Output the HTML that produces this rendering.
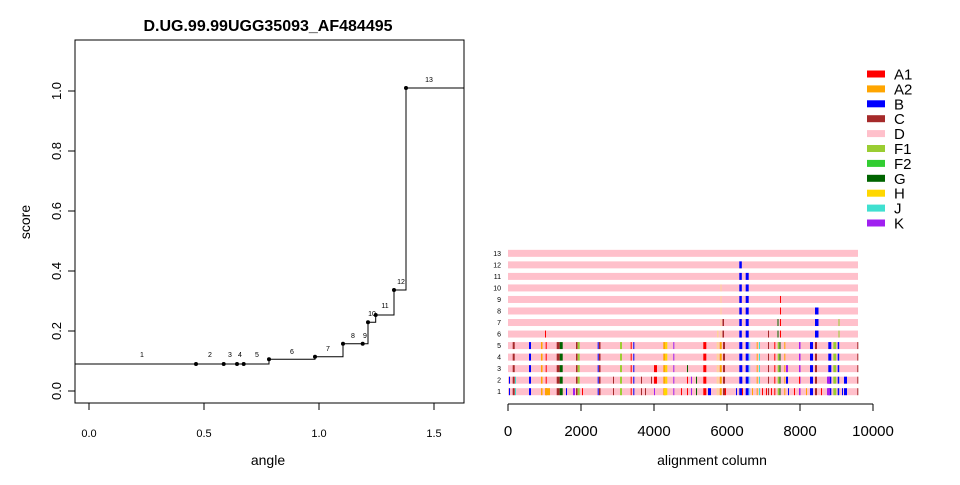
<!DOCTYPE html>
<html><head><meta charset="utf-8"><style>
html,body{margin:0;padding:0;background:#fff;}
svg text{font-family:"Liberation Sans",Arial,sans-serif;}
</style></head><body>
<svg id="s" width="960" height="480" xmlns="http://www.w3.org/2000/svg">
<rect width="960" height="480" fill="#fff"/>
<text x="268" y="31" font-size="16" font-weight="bold" text-anchor="middle">D.UG.99.99UGG35093_AF484495</text>
<rect x="75" y="40" width="389" height="363" fill="none" stroke="#000"/>
<g stroke="#000">
<line x1="89" y1="403" x2="89" y2="410"/><line x1="204" y1="403" x2="204" y2="410"/><line x1="319" y1="403" x2="319" y2="410"/><line x1="434" y1="403" x2="434" y2="410"/>
<line x1="75" y1="391" x2="68" y2="391"/><line x1="75" y1="331" x2="68" y2="331"/><line x1="75" y1="271" x2="68" y2="271"/><line x1="75" y1="211" x2="68" y2="211"/><line x1="75" y1="151" x2="68" y2="151"/><line x1="75" y1="91" x2="68" y2="91"/>
</g>
<g font-size="11" text-anchor="middle">
<text x="89" y="437">0.0</text><text x="204" y="437">0.5</text><text x="319" y="437">1.0</text><text x="434" y="437">1.5</text>
</g>
<g font-size="13" text-anchor="middle">
<text transform="translate(61,391) rotate(-90)">0.0</text>
<text transform="translate(61,331) rotate(-90)">0.2</text>
<text transform="translate(61,271) rotate(-90)">0.4</text>
<text transform="translate(61,211) rotate(-90)">0.6</text>
<text transform="translate(61,151) rotate(-90)">0.8</text>
<text transform="translate(61,91) rotate(-90)">1.0</text>
</g>
<text x="268" y="465" font-size="14" text-anchor="middle">angle</text>
<text transform="translate(30,222) rotate(-90)" font-size="14" text-anchor="middle">score</text>
<polyline fill="none" stroke="#000" points="75,364 269,364 269,359.3 315,359.3 315,356.7 343,356.7 343,343.7 368,343.7 368,322.3 375.7,322.3 375.7,315 394,315 394,290 406,290 406,88 464,88"/>
<g fill="#000">
<circle cx="196" cy="364" r="2"/><circle cx="223.7" cy="364" r="2"/><circle cx="237" cy="364" r="2"/><circle cx="243.7" cy="364" r="2"/><circle cx="269" cy="359.3" r="2"/><circle cx="315" cy="356.7" r="2"/><circle cx="343" cy="343.7" r="2"/><circle cx="362.7" cy="343.7" r="2"/><circle cx="368" cy="322.3" r="2"/><circle cx="375.7" cy="315" r="2"/><circle cx="394" cy="290" r="2"/><circle cx="406" cy="88" r="2"/>
</g>
<g font-size="7" text-anchor="middle">
<text x="142" y="357">1</text><text x="210" y="357">2</text><text x="230" y="357">3</text><text x="240" y="357">4</text><text x="257" y="357">5</text><text x="292" y="354">6</text><text x="328" y="351">7</text><text x="353" y="338">8</text><text x="365" y="338">9</text><text x="372" y="316">10</text><text x="385" y="308">11</text><text x="401" y="284">12</text><text x="429" y="82">13</text>
</g>
<g id="bars"></g>
<line x1="508" y1="404" x2="873" y2="404" stroke="#000"/>
<g stroke="#000"><line x1="508" y1="404" x2="508" y2="411"/><line x1="581" y1="404" x2="581" y2="411"/><line x1="654" y1="404" x2="654" y2="411"/><line x1="727" y1="404" x2="727" y2="411"/><line x1="800" y1="404" x2="800" y2="411"/><line x1="873" y1="404" x2="873" y2="411"/></g>
<g font-size="15" text-anchor="middle">
<text x="508" y="436">0</text><text x="581" y="436">2000</text><text x="654" y="436">4000</text><text x="727" y="436">6000</text><text x="800" y="436">8000</text><text x="873" y="436">10000</text>
</g>
<text x="712" y="465" font-size="14" text-anchor="middle">alignment column</text>
<g id="rl" font-size="7" text-anchor="end"></g>
<g id="leg" font-size="15"></g>
</svg>
<script>
var NS="http://www.w3.org/2000/svg";
function R(p,x,y,w,h,c){var r=document.createElementNS(NS,"rect");r.setAttribute("x",x);r.setAttribute("y",y);r.setAttribute("width",w);r.setAttribute("height",h);r.setAttribute("fill",c);document.getElementById(p).appendChild(r);}
var B="#0000ff",RD="#ff0000",BR="#a52a2a",OR="#ffa500",PK="#ffc0cb",YG="#9acd32",LG="#32cd32",DG="#006400",GD="#ffd700",TQ="#40e0d0",PU="#a020f0",LB="#87cefa";
var common=[[512.7,2,BR],[529,2,B],[541,1.5,OR],[545.7,1,RD],[556.7,3,BR],[559.7,3,DG],[576,1.5,BR],[577.7,2,YG],[597.7,1,B],[599,1.5,BR],[620,2,YG],[630.7,1,RD],[633.3,1,B],[663.3,2,OR],[665.3,2,GD],[673.3,1,PU],[703.3,3,RD],[716.7,2,"#ffd39b"],[719.7,2,OR],[723,2,BR],[739.3,3,B],[745.7,3,B],[748.7,1.5,LB],[756.7,1,OR],[759,1,TQ],[768,1,BR],[774.3,1,RD],[777.7,1.5,YG],[779.5,1,DG],[784.3,1,OR],[799,1.5,PU],[810,3,B],[815,2,BR],[828.3,3,B],[833.3,3,YG],[837.7,1.5,B],[857.3,1,BR]];
var extra1=[[509,1,B],[515,1,TQ],[545,5,OR],[566,1,B],[573,2,PU],[582,1,RD],[613,1,BR],[641,1,BR],[645,1,BR],[654,1,PU],[664,2,GD],[681,1,RD],[687,1,RD],[691,1,PU],[696,1,DG],[708,3,B],[725,1,RD],[736,1,B],[742,1,RD],[752,1,OR],[762,1,RD],[766,1,RD],[771,1,RD],[788,1,B],[794,1,RD],[806,1,OR],[821,1,RD],[827,3,PU],[844,3,B],[842,1,B]];
var extra2=[[509,1,B],[515,1,TQ],[613,1,BR],[641,1,BR],[651,1,BR],[654,3,RD],[687,1,RD],[691,1,PU],[696,1,DG],[786,2,B],[799,1,RD],[827,3,PU],[844,3,B]];
var extra3=[[654,3,RD],[687,1,DG],[786,2,PU]];
function ry(k){return 391.7-(k-1)*11.53-3.5;}
for(var k=1;k<=13;k++){
 var y=ry(k);R("bars",508,y,350,7,PK);
 var t=document.createElementNS(NS,"text");t.setAttribute("x",501);t.setAttribute("y",y+6);t.textContent=k;document.getElementById("rl").appendChild(t);
 var segs=[];
 if(k<=5){segs=common.slice(); if(k==1)segs=segs.concat(extra1); if(k==2)segs=segs.concat(extra2); if(k==3)segs=segs.concat(extra3);}
 else{
  if(k<=12)segs.push([739.3,2.5,B]);
  if(k<=11)segs.push([745.7,3,B]);
  if(k<=10)segs.push([720.5,1,"#ffd39b"]);
  if(k<=9)segs.push([780,1,RD]);
  if(k<=8)segs.push([815,3.5,B]);
  if(k<=7){segs.push([722.5,1.5,BR]);segs.push([777.5,1,DG]);segs.push([838.5,1,YG]);}
  if(k==6){segs.push([545,1,RD]);segs.push([717,1.5,"#ffd39b"]);segs.push([768,1,BR]);}
 }
 for(var i=0;i<segs.length;i++)R("bars",segs[i][0],y,segs[i][1],7,segs[i][2]);
}
var lg=[["A1",RD],["A2",OR],["B",B],["C",BR],["D",PK],["F1",YG],["F2",LG],["G",DG],["H",GD],["J",TQ],["K","#a020f0"]];
for(var i=0;i<lg.length;i++){var cy=74+i*14.9;R("leg",867,cy-3.5,18,7,lg[i][1]);var t=document.createElementNS(NS,"text");t.setAttribute("x",894);t.setAttribute("y",cy+5.5);t.textContent=lg[i][0];document.getElementById("leg").appendChild(t);}
</script>
</body></html>
